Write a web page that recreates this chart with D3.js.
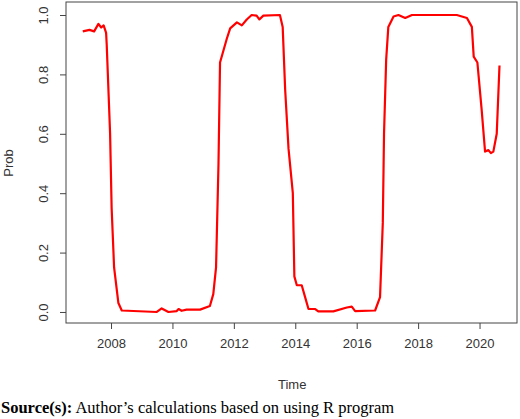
<!DOCTYPE html>
<html><head><meta charset="utf-8">
<script src="https://cdn.jsdelivr.net/npm/d3@7"></script>
<style>body{margin:0;background:#fff}</style>
</head><body>
<script>
// probability series: [time, prob]
const times = [2007.08,2007.3,2007.45,2007.59,2007.68,2007.76,2007.84,2007.86,2007.97,2008.02,2008.1,2008.24,2008.35,2009.49,2009.65,2009.87,2010.14,2010.2,2010.3,2010.46,2010.9,2011.22,2011.33,2011.42,2011.5,2011.55,2011.77,2011.88,2012.1,2012.26,2012.42,2012.58,2012.74,2012.83,2012.96,2013.5,2013.59,2013.67,2013.78,2013.92,2013.97,2014.05,2014.21,2014.32,2014.43,2014.65,2014.75,2015.24,2015.68,2015.84,2015.95,2016.6,2016.76,2016.85,2016.89,2016.96,2017.03,2017.2,2017.36,2017.58,2017.8,2019.26,2019.59,2019.75,2019.81,2019.93,2020.07,2020.18,2020.29,2020.37,2020.45,2020.56,2020.65]
const probs = [0.945,0.95,0.945,0.97,0.958,0.965,0.94,0.9,0.6,0.35,0.15,0.03,0.005,0.0,0.012,0.0,0.003,0.01,0.004,0.008,0.008,0.02,0.06,0.15,0.5,0.84,0.92,0.955,0.975,0.965,0.985,1.0,0.998,0.985,0.998,1.0,0.96,0.75,0.55,0.4,0.12,0.09,0.09,0.05,0.01,0.01,0.002,0.002,0.015,0.018,0.003,0.005,0.05,0.3,0.6,0.85,0.96,0.995,1.0,0.99,1.0,1.0,0.99,0.96,0.86,0.84,0.68,0.54,0.545,0.535,0.54,0.6,0.83]
const xTicks = [2008,2010,2012,2014,2016,2018,2020]
const yTicks = [0,0.2,0.4,0.6,0.8,1.0]

const width = 520, height = 419
const margin = {top: 2, right: 3, bottom: 96, left: 66}

const svg = d3.select("body").append("svg")
    .attr("width", width).attr("height", height)
    .attr("font-family", "Liberation Sans, Arial, sans-serif")

const x = d3.scaleLinear().domain([2006.534, 2021.22]).range([margin.left, width - margin.right])
const y = d3.scaleLinear().domain([-0.0371, 1.0438]).range([height - margin.bottom, margin.top])

svg.append("rect")
    .attr("x", margin.left).attr("y", margin.top)
    .attr("width", width - margin.right - margin.left)
    .attr("height", height - margin.bottom - margin.top)
    .attr("fill", "none").attr("stroke", "#444").attr("stroke-width", 1)

svg.append("g")
    .attr("transform", `translate(0,${height - margin.bottom})`)
    .call(d3.axisBottom(x).tickValues(xTicks).tickFormat(d3.format("d")).tickSize(6).tickPadding(10))
    .call(g => g.select(".domain").remove())
    .call(g => g.selectAll("text").attr("font-size", 13).attr("fill", "#333"))
    .call(g => g.selectAll("line").attr("stroke", "#444"))

svg.append("g")
    .attr("transform", `translate(${margin.left},0)`)
    .call(d3.axisLeft(y).tickValues(yTicks).tickFormat(d3.format(".1f")).tickSize(6))
    .call(g => g.select(".domain").remove())
    .call(g => g.selectAll("line").attr("stroke", "#444"))
    .call(g => g.selectAll("text").attr("font-size", 13).attr("fill", "#333")
        .attr("text-anchor", "middle").attr("dy", null)
        .attr("transform", "rotate(-90)")
        .attr("x", 0).attr("y", -18))

svg.append("text").attr("x", x(2013.9)).attr("y", 389)
    .attr("text-anchor", "middle").attr("font-size", 13).attr("fill", "#333").text("Time")

svg.append("text").attr("transform", "translate(13,163) rotate(-90)")
    .attr("text-anchor", "middle").attr("font-size", 13).attr("fill", "#333").text("Prob")

svg.append("path")
    .datum(times.map((t, i) => [t, probs[i]]))
    .attr("fill", "none").attr("stroke", "#ff0000").attr("stroke-width", 2.2)
    .attr("stroke-linejoin", "round")
    .attr("d", d3.line().x(d => x(d[0])).y(d => y(d[1])))

const src = svg.append("text").attr("x", 1).attr("y", 413)
    .attr("font-family", "Liberation Serif, Times New Roman, serif").attr("font-size", 16.5)
src.append("tspan").attr("font-weight", "bold").text("Source(s):")
src.append("tspan").text(" Author’s calculations based on using R program")
</script>
</body></html>
